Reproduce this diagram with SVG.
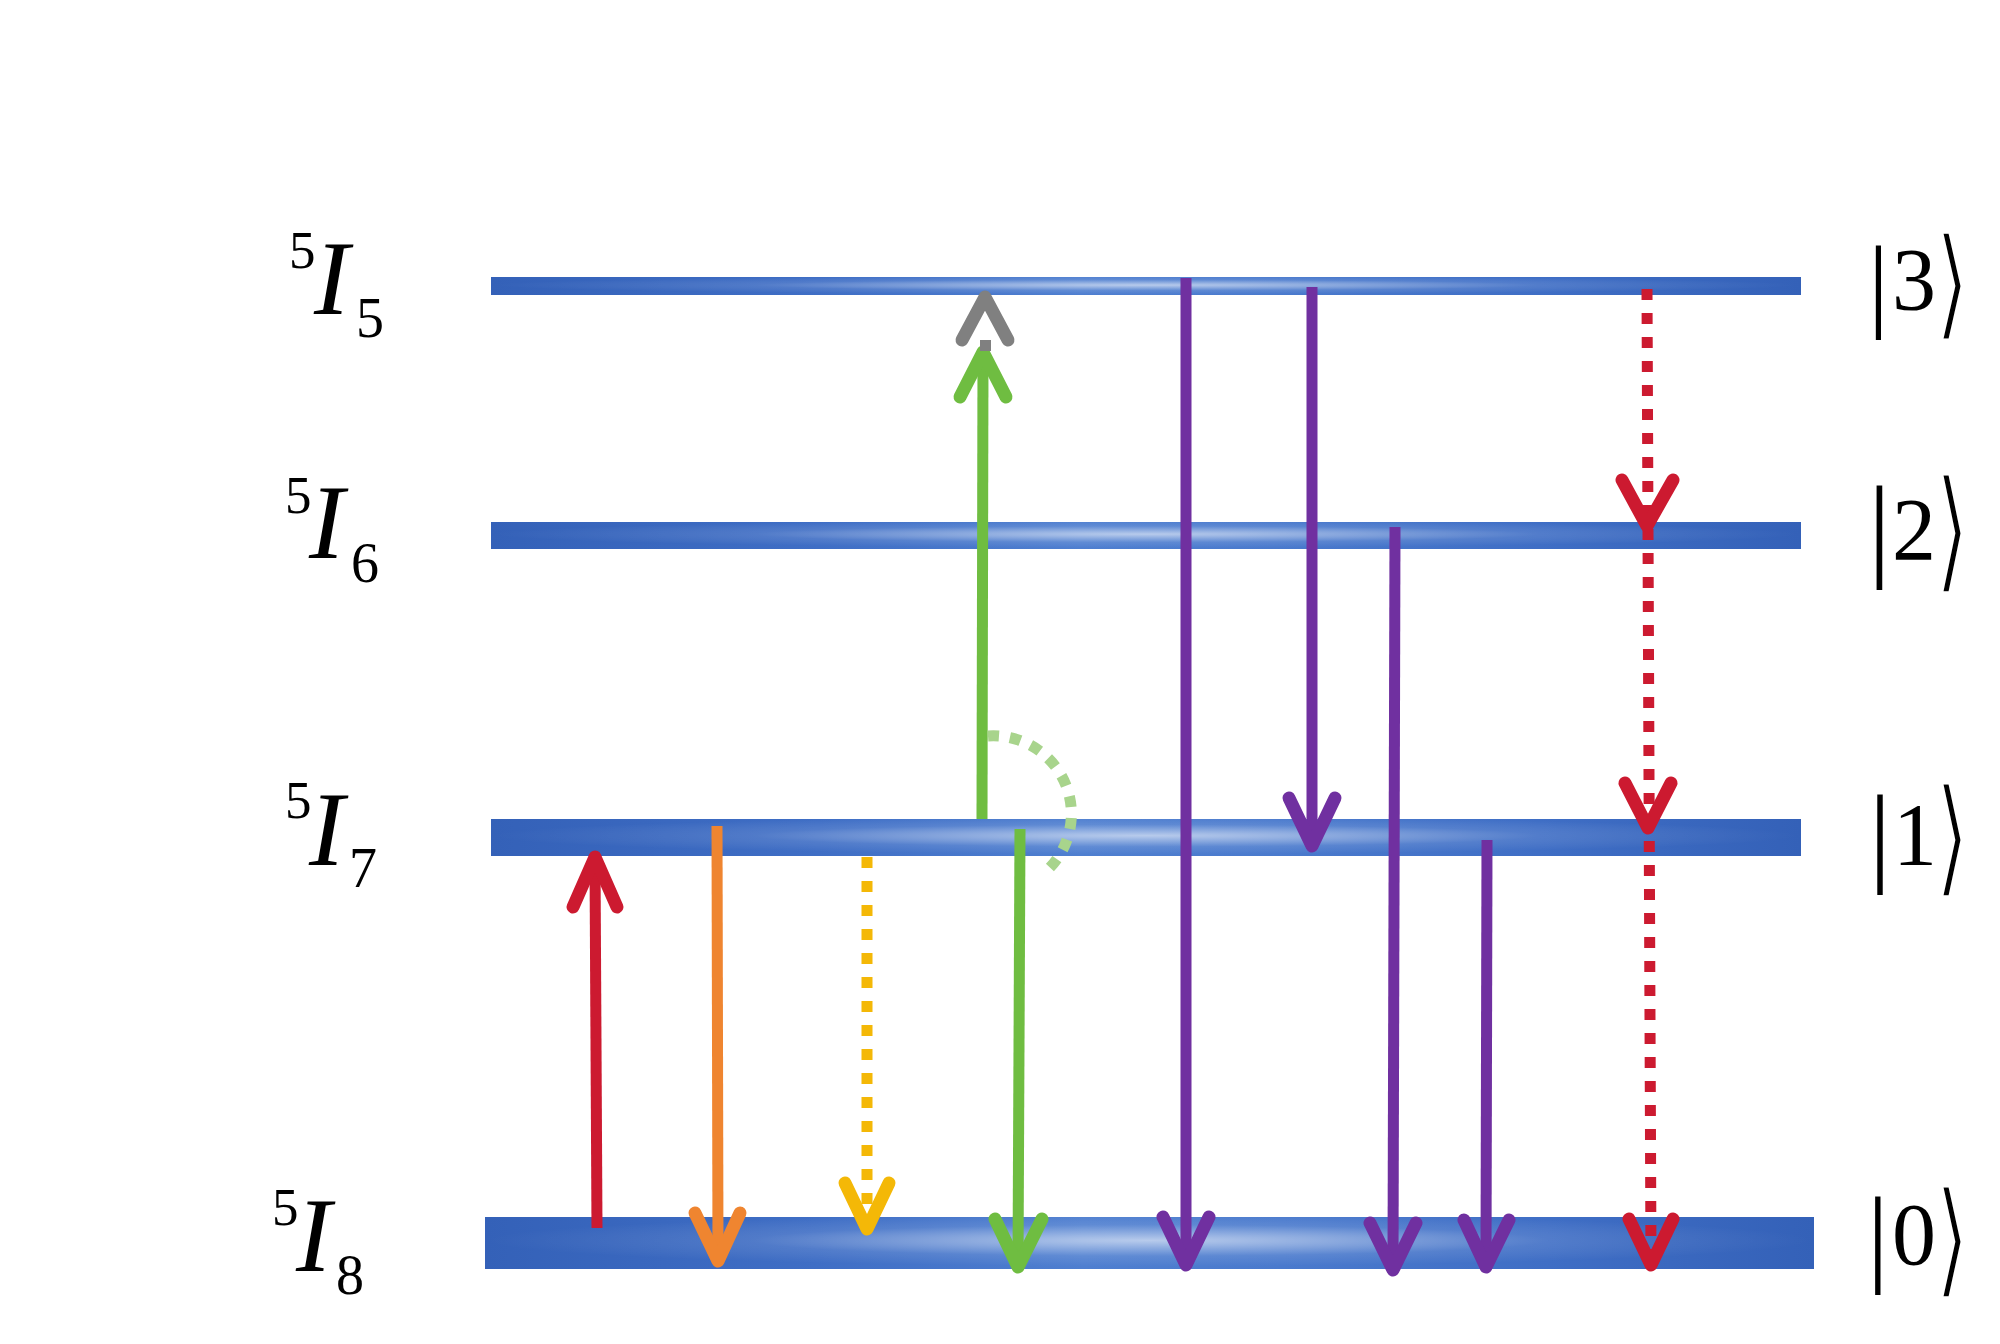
<svg xmlns="http://www.w3.org/2000/svg" width="2000" height="1344" viewBox="0 0 2000 1344">
<defs>
  <linearGradient id="barH" x1="0" y1="0" x2="1" y2="0">
    <stop offset="0" stop-color="#3461b8"/>
    <stop offset="0.25" stop-color="#3f6ec5"/>
    <stop offset="0.45" stop-color="#4f7fd0"/>
    <stop offset="0.6" stop-color="#4a7acd"/>
    <stop offset="0.8" stop-color="#3f6ec5"/>
    <stop offset="1" stop-color="#3461b8"/>
  </linearGradient>
  <radialGradient id="barHi" cx="0.5" cy="0.45" r="0.5">
    <stop offset="0" stop-color="#ffffff" stop-opacity="0.6"/>
    <stop offset="0.3" stop-color="#ffffff" stop-opacity="0.35"/>
    <stop offset="0.6" stop-color="#ffffff" stop-opacity="0.1"/>
    <stop offset="1" stop-color="#ffffff" stop-opacity="0"/>
  </radialGradient>
</defs>
<style>
  .bar { fill: url(#barH); }
  .hi { fill: url(#barHi); }
  .lbl { font-family: "Liberation Serif", "Times New Roman", serif; fill: #000; }
  .it { font-style: italic; }
  .ang { font-family: "DejaVu Sans", sans-serif; fill: #000; stroke: #fff; stroke-width: 2.5; paint-order: fill; }
  .ln { fill: none; stroke-width: 11; }
  .hd { fill: none; stroke-width: 13; stroke-linecap: round; stroke-linejoin: round; }
  .dot { fill: none; stroke-width: 11; stroke-dasharray: 11 13; }
  .red { stroke: #cc1a30; }
  .org { stroke: #ef8530; }
  .yel { stroke: #f4b807; }
  .grn { stroke: #6fbd41; }
  .lgr { stroke: #a8d48c; }
  .pur { stroke: #7030a0; }
  .gry { stroke: #808080; }
</style>
<rect width="2000" height="1344" fill="#ffffff"/>

<g id="level3">
  <rect class="bar" x="491" y="277" width="1310" height="18"/>
  <rect class="hi" x="491" y="277" width="1310" height="18"/>
  <text class="lbl" x="289" y="268" font-size="53">5</text>
  <text class="lbl it" x="314" y="314" font-size="106">I</text>
  <text class="lbl" x="356" y="337" font-size="56">5</text>
  <text class="lbl" x="1868" y="318" font-size="104">|</text>
  <text class="lbl" x="1892" y="309" font-size="88">3</text>
  <text class="ang" transform="translate(1935 324) scale(0.85 1.163)" font-size="104">⟩</text>
</g>
<g id="level2">
  <rect class="bar" x="491" y="522" width="1310" height="27"/>
  <rect class="hi" x="491" y="522" width="1310" height="27"/>
  <text class="lbl" x="285" y="513" font-size="53">5</text>
  <text class="lbl it" x="309" y="558" font-size="106">I</text>
  <text class="lbl" x="351" y="582" font-size="56">6</text>
  <text class="lbl" x="1868" y="566" font-size="114">|</text>
  <text class="lbl" x="1892" y="559" font-size="88">2</text>
  <text class="ang" transform="translate(1935 575) scale(0.85 1.283)" font-size="104">⟩</text>
</g>
<g id="level1">
  <rect class="bar" x="491" y="819" width="1310" height="37"/>
  <rect class="hi" x="491" y="819" width="1310" height="37"/>
  <text class="lbl" x="285" y="818" font-size="53">5</text>
  <text class="lbl it" x="309" y="865" font-size="106">I</text>
  <text class="lbl" x="349" y="887" font-size="56">7</text>
  <text class="lbl" x="1869" y="872" font-size="110">|</text>
  <text class="lbl" x="1893" y="864" font-size="88">1</text>
  <text class="ang" transform="translate(1935 880) scale(0.85 1.228)" font-size="104">⟩</text>
</g>
<g id="level0">
  <rect class="bar" x="485" y="1217" width="1329" height="52"/>
  <rect class="hi" x="485" y="1217" width="1329" height="52"/>
  <text class="lbl" x="272" y="1225" font-size="53">5</text>
  <text class="lbl it" x="296" y="1271" font-size="106">I</text>
  <text class="lbl" x="336" y="1294" font-size="56">8</text>
  <text class="lbl" x="1867" y="1272" font-size="108">|</text>
  <text class="lbl" x="1892" y="1264" font-size="88">0</text>
  <text class="ang" transform="translate(1935 1281) scale(0.85 1.207)" font-size="104">⟩</text>
</g>

<g id="connectors">
  <g id="red-up">
    <path class="ln red" d="M597 1228 L595 860"/>
    <path class="hd red" d="M573 907 L595 857 L617 907"/>
  </g>
  <g id="orange-down">
    <path class="ln org" d="M717 826 L718 1258"/>
    <path class="hd org" d="M695 1213 L718 1261 L740 1213"/>
  </g>
  <g id="yellow-dotted">
    <path class="dot yel" d="M867 857 L867 1226"/>
    <path class="hd yel" d="M845 1183 L867 1229 L889 1183"/>
  </g>
  <g id="green-up">
    <path class="ln grn" d="M982 819 L983 355"/>
    <path class="hd grn" d="M960 397 L983 352 L1006 397"/>
    <rect x="980" y="340" width="11" height="11" fill="#808080"/>
    <path class="hd gry" d="M962 340 L985 297 L1008 340"/>
  </g>
  <g id="green-arc">
    <path class="dot lgr" style="stroke-dasharray: 11 11" d="M988 736 A78 78 0 0 1 1043 874"/>
  </g>
  <g id="green-down">
    <path class="ln grn" d="M1020 829 L1018 1264"/>
    <path class="hd grn" d="M995 1219 L1018 1267 L1042 1219"/>
  </g>
  <g id="purple-30">
    <path class="ln pur" d="M1186 278 L1186 1262"/>
    <path class="hd pur" d="M1163 1217 L1186 1265 L1209 1217"/>
  </g>
  <g id="purple-31">
    <path class="ln pur" d="M1312 287 L1312 843"/>
    <path class="hd pur" d="M1289 798 L1312 846 L1335 798"/>
  </g>
  <g id="purple-20">
    <path class="ln pur" d="M1395 527 L1393 1267"/>
    <path class="hd pur" d="M1370 1223 L1393 1270 L1416 1223"/>
  </g>
  <g id="purple-10">
    <path class="ln pur" d="M1487 840 L1486 1264"/>
    <path class="hd pur" d="M1464 1220 L1486 1267 L1509 1220"/>
  </g>
  <g id="red-dotted">
    <path class="dot red" d="M1647 289 L1651 1262"/>
    <path class="hd red" d="M1622 480 L1647 526 L1673 480"/>
    <path class="hd red" d="M1625 783 L1648 828 L1671 783"/>
    <path class="hd red" d="M1629 1219 L1651 1265 L1673 1219"/>
  </g>
</g>
</svg>
